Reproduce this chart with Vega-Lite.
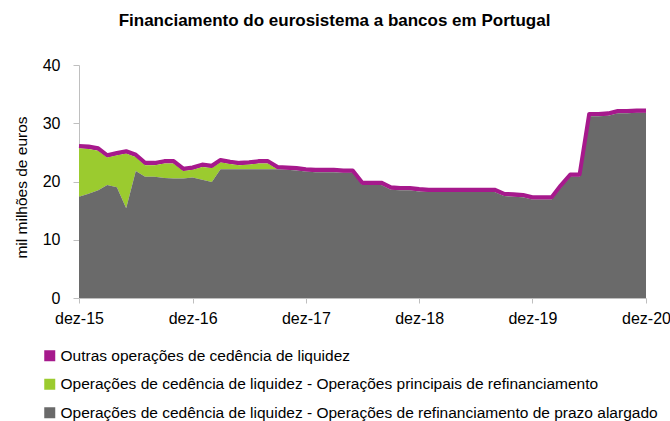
{
  "$schema": "https://vega.github.io/schema/vega-lite/v6.json",
  "width": 567,
  "height": 233,
  "autosize": "none",
  "padding": {"left": 79, "top": 65, "right": 24, "bottom": 123},
  "background": "white",
  "config": {"view": {"stroke": null}, "font": "Liberation Sans"},
  "title": {"text": "Financiamento do eurosistema a bancos em Portugal", "fontSize": 17, "fontWeight": "bold", "font": "Liberation Sans", "color": "black", "anchor": "middle", "dx": -28, "offset": 27},
  "data": {"values": [
    {"date": "2015-12-01", "Outras operações de cedência de liquidez": 0.4, "Operações de cedência de liquidez - Operações principais de refinanciamento": 8.3, "Operações de cedência de liquidez - Operações de refinanciamento de prazo alargado": 17.4},
    {"date": "2016-01-01", "Outras operações de cedência de liquidez": 0.4, "Operações de cedência de liquidez - Operações principais de refinanciamento": 7.7, "Operações de cedência de liquidez - Operações de refinanciamento de prazo alargado": 17.9},
    {"date": "2016-02-01", "Outras operações de cedência de liquidez": 0.4, "Operações de cedência de liquidez - Operações principais de refinanciamento": 6.8, "Operações de cedência de liquidez - Operações de refinanciamento de prazo alargado": 18.5},
    {"date": "2016-03-01", "Outras operações de cedência de liquidez": 0.4, "Operações de cedência de liquidez - Operações principais de refinanciamento": 4.7, "Operações de cedência de liquidez - Operações de refinanciamento de prazo alargado": 19.4},
    {"date": "2016-04-01", "Outras operações de cedência de liquidez": 0.4, "Operações de cedência de liquidez - Operações principais de refinanciamento": 5.5, "Operações de cedência de liquidez - Operações de refinanciamento de prazo alargado": 19.0},
    {"date": "2016-05-01", "Outras operações de cedência de liquidez": 0.4, "Operações de cedência de liquidez - Operações principais de refinanciamento": 9.4, "Operações de cedência de liquidez - Operações de refinanciamento de prazo alargado": 15.4},
    {"date": "2016-06-01", "Outras operações de cedência de liquidez": 0.4, "Operações de cedência de liquidez - Operações principais de refinanciamento": 2.4, "Operações de cedência de liquidez - Operações de refinanciamento de prazo alargado": 21.8},
    {"date": "2016-07-01", "Outras operações de cedência de liquidez": 0.4, "Operações de cedência de liquidez - Operações principais de refinanciamento": 2.0, "Operações de cedência de liquidez - Operações de refinanciamento de prazo alargado": 20.8},
    {"date": "2016-08-01", "Outras operações de cedência de liquidez": 0.4, "Operações de cedência de liquidez - Operações principais de refinanciamento": 2.0, "Operações de cedência de liquidez - Operações de refinanciamento de prazo alargado": 20.8},
    {"date": "2016-09-01", "Outras operações de cedência de liquidez": 0.4, "Operações de cedência de liquidez - Operações principais de refinanciamento": 2.5, "Operações de cedência de liquidez - Operações de refinanciamento de prazo alargado": 20.6},
    {"date": "2016-10-01", "Outras operações de cedência de liquidez": 0.4, "Operações de cedência de liquidez - Operações principais de refinanciamento": 2.6, "Operações de cedência de liquidez - Operações de refinanciamento de prazo alargado": 20.5},
    {"date": "2016-11-01", "Outras operações de cedência de liquidez": 0.4, "Operações de cedência de liquidez - Operações principais de refinanciamento": 1.3, "Operações de cedência de liquidez - Operações de refinanciamento de prazo alargado": 20.5},
    {"date": "2016-12-01", "Outras operações de cedência de liquidez": 0.4, "Operações de cedência de liquidez - Operações principais de refinanciamento": 1.3, "Operações de cedência de liquidez - Operações de refinanciamento de prazo alargado": 20.7},
    {"date": "2017-01-01", "Outras operações de cedência de liquidez": 0.4, "Operações de cedência de liquidez - Operações principais de refinanciamento": 2.2, "Operações de cedência de liquidez - Operações de refinanciamento de prazo alargado": 20.3},
    {"date": "2017-02-01", "Outras operações de cedência de liquidez": 0.4, "Operações de cedência de liquidez - Operações principais de refinanciamento": 2.4, "Operações de cedência de liquidez - Operações de refinanciamento de prazo alargado": 19.9},
    {"date": "2017-03-01", "Outras operações de cedência de liquidez": 0.4, "Operações de cedência de liquidez - Operações principais de refinanciamento": 1.2, "Operações de cedência de liquidez - Operações de refinanciamento de prazo alargado": 22.1},
    {"date": "2017-04-01", "Outras operações de cedência de liquidez": 0.4, "Operações de cedência de liquidez - Operações principais de refinanciamento": 0.9, "Operações de cedência de liquidez - Operações de refinanciamento de prazo alargado": 22.1},
    {"date": "2017-05-01", "Outras operações de cedência de liquidez": 0.4, "Operações de cedência de liquidez - Operações principais de refinanciamento": 0.7, "Operações de cedência de liquidez - Operações de refinanciamento de prazo alargado": 22.1},
    {"date": "2017-06-01", "Outras operações de cedência de liquidez": 0.4, "Operações de cedência de liquidez - Operações principais de refinanciamento": 0.8, "Operações de cedência de liquidez - Operações de refinanciamento de prazo alargado": 22.1},
    {"date": "2017-07-01", "Outras operações de cedência de liquidez": 0.4, "Operações de cedência de liquidez - Operações principais de refinanciamento": 1.0, "Operações de cedência de liquidez - Operações de refinanciamento de prazo alargado": 22.1},
    {"date": "2017-08-01", "Outras operações de cedência de liquidez": 0.4, "Operações de cedência de liquidez - Operações principais de refinanciamento": 1.0, "Operações de cedência de liquidez - Operações de refinanciamento de prazo alargado": 22.1},
    {"date": "2017-09-01", "Outras operações de cedência de liquidez": 0.4, "Operações de cedência de liquidez - Operações principais de refinanciamento": 0, "Operações de cedência de liquidez - Operações de refinanciamento de prazo alargado": 22.1},
    {"date": "2017-10-01", "Outras operações de cedência de liquidez": 0.4, "Operações de cedência de liquidez - Operações principais de refinanciamento": 0, "Operações de cedência de liquidez - Operações de refinanciamento de prazo alargado": 22.0},
    {"date": "2017-11-01", "Outras operações de cedência de liquidez": 0.4, "Operações de cedência de liquidez - Operações principais de refinanciamento": 0, "Operações de cedência de liquidez - Operações de refinanciamento de prazo alargado": 21.9},
    {"date": "2017-12-01", "Outras operações de cedência de liquidez": 0.4, "Operações de cedência de liquidez - Operações principais de refinanciamento": 0, "Operações de cedência de liquidez - Operações de refinanciamento de prazo alargado": 21.7},
    {"date": "2018-01-01", "Outras operações de cedência de liquidez": 0.4, "Operações de cedência de liquidez - Operações principais de refinanciamento": 0, "Operações de cedência de liquidez - Operações de refinanciamento de prazo alargado": 21.6},
    {"date": "2018-02-01", "Outras operações de cedência de liquidez": 0.4, "Operações de cedência de liquidez - Operações principais de refinanciamento": 0, "Operações de cedência de liquidez - Operações de refinanciamento de prazo alargado": 21.6},
    {"date": "2018-03-01", "Outras operações de cedência de liquidez": 0.4, "Operações de cedência de liquidez - Operações principais de refinanciamento": 0, "Operações de cedência de liquidez - Operações de refinanciamento de prazo alargado": 21.6},
    {"date": "2018-04-01", "Outras operações de cedência de liquidez": 0.4, "Operações de cedência de liquidez - Operações principais de refinanciamento": 0, "Operações de cedência de liquidez - Operações de refinanciamento de prazo alargado": 21.5},
    {"date": "2018-05-01", "Outras operações de cedência de liquidez": 0.4, "Operações de cedência de liquidez - Operações principais de refinanciamento": 0, "Operações de cedência de liquidez - Operações de refinanciamento de prazo alargado": 21.5},
    {"date": "2018-06-01", "Outras operações de cedência de liquidez": 0.4, "Operações de cedência de liquidez - Operações principais de refinanciamento": 0, "Operações de cedência de liquidez - Operações de refinanciamento de prazo alargado": 19.4},
    {"date": "2018-07-01", "Outras operações de cedência de liquidez": 0.4, "Operações de cedência de liquidez - Operações principais de refinanciamento": 0, "Operações de cedência de liquidez - Operações de refinanciamento de prazo alargado": 19.4},
    {"date": "2018-08-01", "Outras operações de cedência de liquidez": 0.4, "Operações de cedência de liquidez - Operações principais de refinanciamento": 0, "Operações de cedência de liquidez - Operações de refinanciamento de prazo alargado": 19.4},
    {"date": "2018-09-01", "Outras operações de cedência de liquidez": 0.4, "Operações de cedência de liquidez - Operações principais de refinanciamento": 0, "Operações de cedência de liquidez - Operações de refinanciamento de prazo alargado": 18.6},
    {"date": "2018-10-01", "Outras operações de cedência de liquidez": 0.4, "Operações de cedência de liquidez - Operações principais de refinanciamento": 0, "Operações de cedência de liquidez - Operações de refinanciamento de prazo alargado": 18.5},
    {"date": "2018-11-01", "Outras operações de cedência de liquidez": 0.4, "Operações de cedência de liquidez - Operações principais de refinanciamento": 0, "Operações de cedência de liquidez - Operações de refinanciamento de prazo alargado": 18.5},
    {"date": "2018-12-01", "Outras operações de cedência de liquidez": 0.4, "Operações de cedência de liquidez - Operações principais de refinanciamento": 0, "Operações de cedência de liquidez - Operações de refinanciamento de prazo alargado": 18.3},
    {"date": "2019-01-01", "Outras operações de cedência de liquidez": 0.4, "Operações de cedência de liquidez - Operações principais de refinanciamento": 0, "Operações de cedência de liquidez - Operações de refinanciamento de prazo alargado": 18.2},
    {"date": "2019-02-01", "Outras operações de cedência de liquidez": 0.4, "Operações de cedência de liquidez - Operações principais de refinanciamento": 0, "Operações de cedência de liquidez - Operações de refinanciamento de prazo alargado": 18.2},
    {"date": "2019-03-01", "Outras operações de cedência de liquidez": 0.4, "Operações de cedência de liquidez - Operações principais de refinanciamento": 0, "Operações de cedência de liquidez - Operações de refinanciamento de prazo alargado": 18.2},
    {"date": "2019-04-01", "Outras operações de cedência de liquidez": 0.4, "Operações de cedência de liquidez - Operações principais de refinanciamento": 0, "Operações de cedência de liquidez - Operações de refinanciamento de prazo alargado": 18.2},
    {"date": "2019-05-01", "Outras operações de cedência de liquidez": 0.4, "Operações de cedência de liquidez - Operações principais de refinanciamento": 0, "Operações de cedência de liquidez - Operações de refinanciamento de prazo alargado": 18.2},
    {"date": "2019-06-01", "Outras operações de cedência de liquidez": 0.4, "Operações de cedência de liquidez - Operações principais de refinanciamento": 0, "Operações de cedência de liquidez - Operações de refinanciamento de prazo alargado": 18.2},
    {"date": "2019-07-01", "Outras operações de cedência de liquidez": 0.4, "Operações de cedência de liquidez - Operações principais de refinanciamento": 0, "Operações de cedência de liquidez - Operações de refinanciamento de prazo alargado": 18.2},
    {"date": "2019-08-01", "Outras operações de cedência de liquidez": 0.4, "Operações de cedência de liquidez - Operações principais de refinanciamento": 0, "Operações de cedência de liquidez - Operações de refinanciamento de prazo alargado": 18.2},
    {"date": "2019-09-01", "Outras operações de cedência de liquidez": 0.4, "Operações de cedência de liquidez - Operações principais de refinanciamento": 0, "Operações de cedência de liquidez - Operações de refinanciamento de prazo alargado": 17.5},
    {"date": "2019-10-01", "Outras operações de cedência de liquidez": 0.4, "Operações de cedência de liquidez - Operações principais de refinanciamento": 0, "Operações de cedência de liquidez - Operações de refinanciamento de prazo alargado": 17.4},
    {"date": "2019-11-01", "Outras operações de cedência de liquidez": 0.4, "Operações de cedência de liquidez - Operações principais de refinanciamento": 0, "Operações de cedência de liquidez - Operações de refinanciamento de prazo alargado": 17.3},
    {"date": "2019-12-01", "Outras operações de cedência de liquidez": 0.4, "Operações de cedência de liquidez - Operações principais de refinanciamento": 0, "Operações de cedência de liquidez - Operações de refinanciamento de prazo alargado": 16.9},
    {"date": "2020-01-01", "Outras operações de cedência de liquidez": 0.4, "Operações de cedência de liquidez - Operações principais de refinanciamento": 0, "Operações de cedência de liquidez - Operações de refinanciamento de prazo alargado": 16.9},
    {"date": "2020-02-01", "Outras operações de cedência de liquidez": 0.4, "Operações de cedência de liquidez - Operações principais de refinanciamento": 0, "Operações de cedência de liquidez - Operações de refinanciamento de prazo alargado": 16.9},
    {"date": "2020-03-01", "Outras operações de cedência de liquidez": 0.4, "Operações de cedência de liquidez - Operações principais de refinanciamento": 0, "Operações de cedência de liquidez - Operações de refinanciamento de prazo alargado": 18.9},
    {"date": "2020-04-01", "Outras operações de cedência de liquidez": 0.4, "Operações de cedência de liquidez - Operações principais de refinanciamento": 0, "Operações de cedência de liquidez - Operações de refinanciamento de prazo alargado": 20.8},
    {"date": "2020-05-01", "Outras operações de cedência de liquidez": 0.4, "Operações de cedência de liquidez - Operações principais de refinanciamento": 0, "Operações de cedência de liquidez - Operações de refinanciamento de prazo alargado": 20.8},
    {"date": "2020-06-01", "Outras operações de cedência de liquidez": 0.4, "Operações de cedência de liquidez - Operações principais de refinanciamento": 0, "Operações de cedência de liquidez - Operações de refinanciamento de prazo alargado": 31.2},
    {"date": "2020-07-01", "Outras operações de cedência de liquidez": 0.4, "Operações de cedência de liquidez - Operações principais de refinanciamento": 0, "Operações de cedência de liquidez - Operações de refinanciamento de prazo alargado": 31.2},
    {"date": "2020-08-01", "Outras operações de cedência de liquidez": 0.4, "Operações de cedência de liquidez - Operações principais de refinanciamento": 0, "Operações de cedência de liquidez - Operações de refinanciamento de prazo alargado": 31.3},
    {"date": "2020-09-01", "Outras operações de cedência de liquidez": 0.4, "Operações de cedência de liquidez - Operações principais de refinanciamento": 0, "Operações de cedência de liquidez - Operações de refinanciamento de prazo alargado": 31.7},
    {"date": "2020-10-01", "Outras operações de cedência de liquidez": 0.4, "Operações de cedência de liquidez - Operações principais de refinanciamento": 0, "Operações de cedência de liquidez - Operações de refinanciamento de prazo alargado": 31.7},
    {"date": "2020-11-01", "Outras operações de cedência de liquidez": 0.4, "Operações de cedência de liquidez - Operações principais de refinanciamento": 0, "Operações de cedência de liquidez - Operações de refinanciamento de prazo alargado": 31.8},
    {"date": "2020-12-01", "Outras operações de cedência de liquidez": 0.4, "Operações de cedência de liquidez - Operações principais de refinanciamento": 0, "Operações de cedência de liquidez - Operações de refinanciamento de prazo alargado": 31.8}
  ]},
  "transform": [
    {"fold": ["Outras operações de cedência de liquidez", "Operações de cedência de liquidez - Operações principais de refinanciamento", "Operações de cedência de liquidez - Operações de refinanciamento de prazo alargado"], "as": ["series", "value"]},
    {"joinaggregate": [{"op": "sum", "field": "value", "as": "total"}], "groupby": ["date"]}
  ],
  "encoding": {
    "x": {
      "field": "date",
      "type": "temporal",
      "scale": {"type": "utc", "domain": [{"year": 2015, "month": 12, "date": 1, "utc": true}, {"year": 2020, "month": 12, "date": 1, "utc": true}]},
      "axis": {
        "title": null,
        "grid": false,
        "values": [
          {"year": 2015, "month": 12, "date": 1, "utc": true},
          {"year": 2016, "month": 12, "date": 1, "utc": true},
          {"year": 2017, "month": 12, "date": 1, "utc": true},
          {"year": 2018, "month": 12, "date": 1, "utc": true},
          {"year": 2019, "month": 12, "date": 1, "utc": true},
          {"year": 2020, "month": 12, "date": 1, "utc": true}
        ],
        "labelExpr": "['jan','fev','mar','abr','mai','jun','jul','ago','set','out','nov','dez'][utcmonth(datum.value)] + '-' + utcFormat(datum.value, '%y')",
        "labelFont": "Liberation Sans",
        "labelFontSize": 16,
        "labelColor": "black",
        "labelPadding": 7,
        "labelFlush": false,
        "labelOverlap": false,
        "domainColor": "#BFBFBF",
        "tickColor": "#BFBFBF",
        "tickSize": 5
      }
    }
  },
  "layer": [
    {
      "mark": {"type": "area", "interpolate": "linear"},
      "encoding": {
        "y": {
          "field": "value",
          "type": "quantitative",
          "stack": "zero",
          "scale": {"domain": [0, 40]},
          "axis": {
            "title": "mil milhões de euros",
            "titleFont": "Liberation Sans",
            "titleFontSize": 15.5,
            "titleFontWeight": "normal",
            "titleColor": "black",
            "titleX": -50,
            "titleY": 122,
            "titleAngle": 270,
            "titleAlign": "center",
            "titleBaseline": "bottom",
            "grid": false,
            "values": [0, 10, 20, 30, 40],
            "labelFont": "Liberation Sans",
            "labelFontSize": 16,
            "labelColor": "black",
            "labelPadding": 13,
            "domainColor": "#BFBFBF",
            "tickColor": "#BFBFBF",
            "tickSize": 6
          }
        },
        "color": {
          "field": "series",
          "type": "nominal",
          "scale": {
            "domain": ["Outras operações de cedência de liquidez", "Operações de cedência de liquidez - Operações principais de refinanciamento", "Operações de cedência de liquidez - Operações de refinanciamento de prazo alargado"],
            "range": ["#A6198C", "#9BCB2F", "#6A6A6A"]
          },
          "legend": {
            "title": null,
            "orient": "none",
            "legendX": -37,
            "legendY": 283,
            "direction": "vertical",
            "symbolType": "square",
            "symbolSize": 121,
            "symbolStrokeWidth": 0,
            "labelFont": "Liberation Sans",
            "labelFontSize": 15.5,
            "labelColor": "black",
            "labelOffset": 3,
            "labelLimit": 700,
            "rowPadding": 11.5
          }
        },
        "order": {"field": "series", "sort": "ascending"}
      }
    },
    {
      "transform": [{"filter": {"field": "series", "equal": "Outras operações de cedência de liquidez"}}],
      "mark": {"type": "line", "color": "#A6198C", "strokeWidth": 4, "strokeJoin": "round"},
      "encoding": {"y": {"field": "total", "type": "quantitative"}}
    }
  ]
}
